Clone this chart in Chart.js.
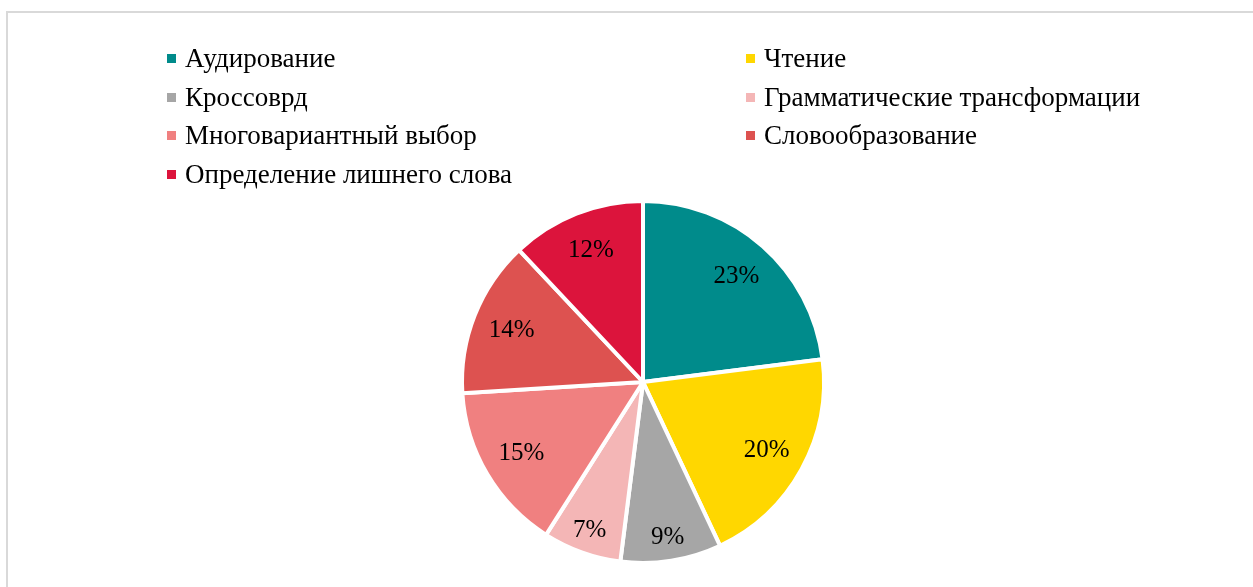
<!DOCTYPE html>
<html>
<head>
<meta charset="utf-8">
<script src="https://cdn.jsdelivr.net/npm/chart.js@4.4.1/dist/chart.umd.min.js"></script>
<style>
    html, body { margin: 0; padding: 0; background: #fff; }
    body { width: 1253px; height: 587px; overflow: hidden; position: relative; font-family: 'Liberation Serif', 'Times New Roman', serif; }
    .frame { position: absolute; left: 6px; top: 11px; width: 1300px; height: 700px; border-left: 2px solid #d9d9d9; border-top: 2px solid #d9d9d9; }
    #chartBox { position: absolute; left: 0; top: 0; width: 1253px; height: 587px; }
    .legend { position: absolute; left: 167px; top: 39px; display: grid; grid-template-columns: 579px auto; grid-auto-rows: 38.7px; }
    .legend-item { display: flex; align-items: center; font-size: 27px; color: #000; white-space: nowrap; }
    .legend-item .box { width: 9px; height: 9px; margin-right: 9px; flex: none; }
</style>
</head>
<body>
<div class="frame"></div>
<div id="chartBox"><canvas id="pieChart"></canvas></div>
<div class="legend" id="legend"></div>
<script>
// Chart data
const categories = ['Аудирование', 'Чтение', 'Кроссоврд', 'Грамматические трансформации', 'Многовариантный выбор', 'Словообразование', 'Определение лишнего слова'];
const shares = [23, 20, 9, 7, 15, 14, 12];
const sliceColors = ['#008b8b', '#ffd700', '#a6a6a6', '#f4b6b6', '#f08080', '#dd5250', '#dc143c'];

// Percent labels inside the slices
const sliceLabels = {
    id: 'sliceLabels',
    afterDatasetsDraw(chart) {
        const ctx = chart.ctx;
        const meta = chart.getDatasetMeta(0);
        ctx.save();
        ctx.font = '25px "Liberation Serif", "Times New Roman", serif';
        ctx.fillStyle = '#000';
        ctx.textAlign = 'center';
        ctx.textBaseline = 'middle';
        meta.data.forEach((arc, i) => {
            const p = arc.getProps(['x', 'y', 'startAngle', 'endAngle', 'outerRadius'], true);
            const mid = (p.startAngle + p.endAngle) / 2;
            const r = p.outerRadius * (shares[i] < 10 ? 0.87 : 0.78);
            ctx.fillText(shares[i] + '%', p.x + Math.cos(mid) * r, p.y + Math.sin(mid) * r);
        });
        ctx.restore();
    }
};

document.addEventListener('DOMContentLoaded', () => {
    const ctx = document.getElementById('pieChart').getContext('2d');
    const pieChart = new Chart(ctx, {
        type: 'pie',
        data: {
            labels: categories,
            datasets: [{
                data: shares,
                backgroundColor: sliceColors,
                borderColor: '#fff',
                borderWidth: 4
            }]
        },
        options: {
            responsive: true,
            maintainAspectRatio: false,
            animation: false,
            radius: 181,
            layout: { padding: { left: 233, right: 200, top: 190, bottom: 13 } },
            plugins: {
                legend: { display: false },
                tooltip: { enabled: false }
            }
        },
        plugins: [sliceLabels]
    });

    // HTML legend, two columns like the original
    const legend = document.getElementById('legend');
    categories.forEach((name, i) => {
        const item = document.createElement('div');
        item.className = 'legend-item';
        item.innerHTML = '<span class="box" style="background:' + sliceColors[i] + '"></span><span>' + name + '</span>';
        legend.appendChild(item);
    });
});
</script>
</body>
</html>
